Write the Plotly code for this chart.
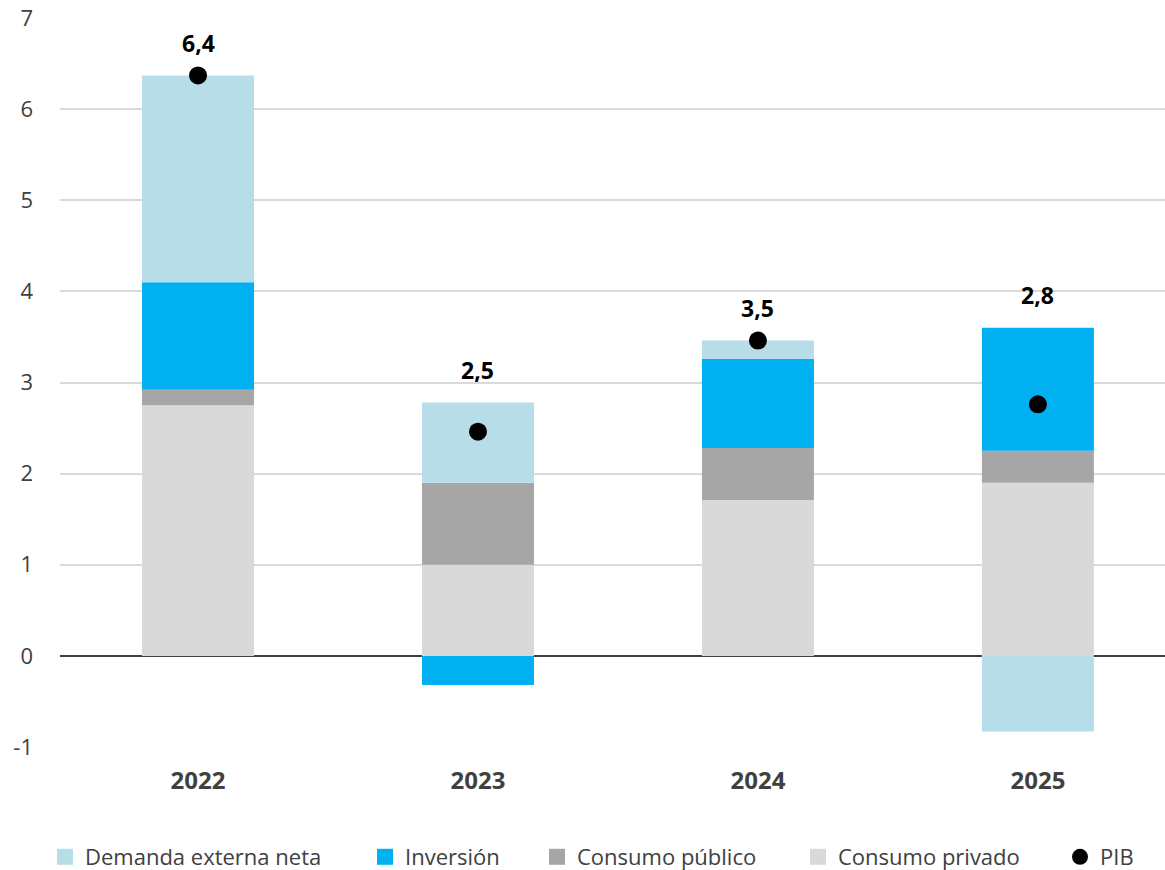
import plotly.graph_objects as go

# Contributions to GDP growth (percentage points)
years = ["2022", "2023", "2024", "2025"]
consumo_privado = [2.75, 1.00, 1.71, 1.90]
consumo_publico = [0.17, 0.90, 0.57, 0.35]
inversion = [1.18, -0.32, 0.98, 1.35]
demanda_externa = [2.27, 0.88, 0.20, -0.83]
pib = [6.37, 2.46, 3.46, 2.76]
y_ticks = [-1, 0, 1, 2, 3, 4, 5, 6, 7]

x = list(range(len(years)))
font_family = "Open Sans, Lato, Liberation Sans, sans-serif"
text_grey = "#404040"

W, H = 1165, 870
M_L, M_R, M_T, M_B = 60, 0, 18, 123
plot_w = W - M_L - M_R
plot_h = H - M_T - M_B

fig = go.Figure()

series = [
    ("Consumo privado", consumo_privado, "#D9D9D9"),
    ("Consumo público", consumo_publico, "#A6A6A6"),
    ("Inversión", inversion, "#00B0F0"),
    ("Demanda externa neta", demanda_externa, "#B7DDE8"),
]
for name, vals, color in series:
    fig.add_trace(go.Bar(
        x=x, y=vals, name=name, width=0.4, showlegend=False,
        marker=dict(color=color, line=dict(width=0)),
    ))

fig.add_trace(go.Scatter(
    x=x, y=pib, name="PIB", mode="markers", showlegend=False,
    marker=dict(color="black", size=18),
))

# Legend row: one legend per entry so each can sit at its own spot
legend_entries = [
    ("Demanda externa neta", "#B7DDE8", "square", 85),
    ("Inversión", "#00B0F0", "square", 405),
    ("Consumo público", "#A6A6A6", "square", 577),
    ("Consumo privado", "#D9D9D9", "square", 838),
    ("PIB", "black", "circle", 1100),
]
legend_layouts = {}
for k, (name, color, symbol, text_px) in enumerate(legend_entries):
    key = "legend" if k == 0 else f"legend{k + 1}"
    fig.add_trace(go.Scatter(
        x=[None], y=[None], name=name, mode="markers", legend=key,
        marker=dict(color=color, symbol=symbol, size=16),
    ))
    legend_layouts[key] = dict(
        x=(text_px - 40 - M_L) / plot_w, xanchor="left",
        y=-(857 - (H - M_B)) / plot_h, yanchor="middle",
        orientation="h", itemwidth=30,
        bgcolor="rgba(0,0,0,0)", borderwidth=0,
        font=dict(size=22, color=text_grey, family=font_family),
    )

# Value labels above the top of each positive stack
for i, v in enumerate(pib):
    top = sum(max(s[1][i], 0) for s in series)
    fig.add_annotation(
        x=x[i], y=max(top, v) + 0.36,
        text=f"{v:.1f}".replace(".", ","),
        showarrow=False,
        font=dict(family=font_family, size=23, color="black", weight="bold"),
    )

fig.update_layout(
    barmode="relative",
    width=W, height=H,
    margin=dict(l=M_L, r=M_R, t=M_T, b=M_B, autoexpand=False),
    plot_bgcolor="white", paper_bgcolor="white",
    font=dict(family=font_family, color=text_grey),
    showlegend=True,
    xaxis=dict(
        range=[-0.493, 3.454],
        tickvals=x, ticktext=years,
        tickfont=dict(size=24, color=text_grey, weight="bold"),
        showgrid=False, zeroline=False, showline=False, ticks="",
        ticklabelstandoff=17, automargin=False,
    ),
    yaxis=dict(
        range=[-1, 7],
        tickvals=y_ticks, ticktext=[str(t) for t in y_ticks],
        tickfont=dict(size=22, color=text_grey),
        showgrid=True, gridcolor="#D9D9D9", gridwidth=1.5,
        zeroline=True, zerolinecolor="#404040", zerolinewidth=1.5,
        showline=False, ticks="",
        ticklabelstandoff=26, automargin=False,
    ),
    **legend_layouts,
)

fig.write_html("out.html")
